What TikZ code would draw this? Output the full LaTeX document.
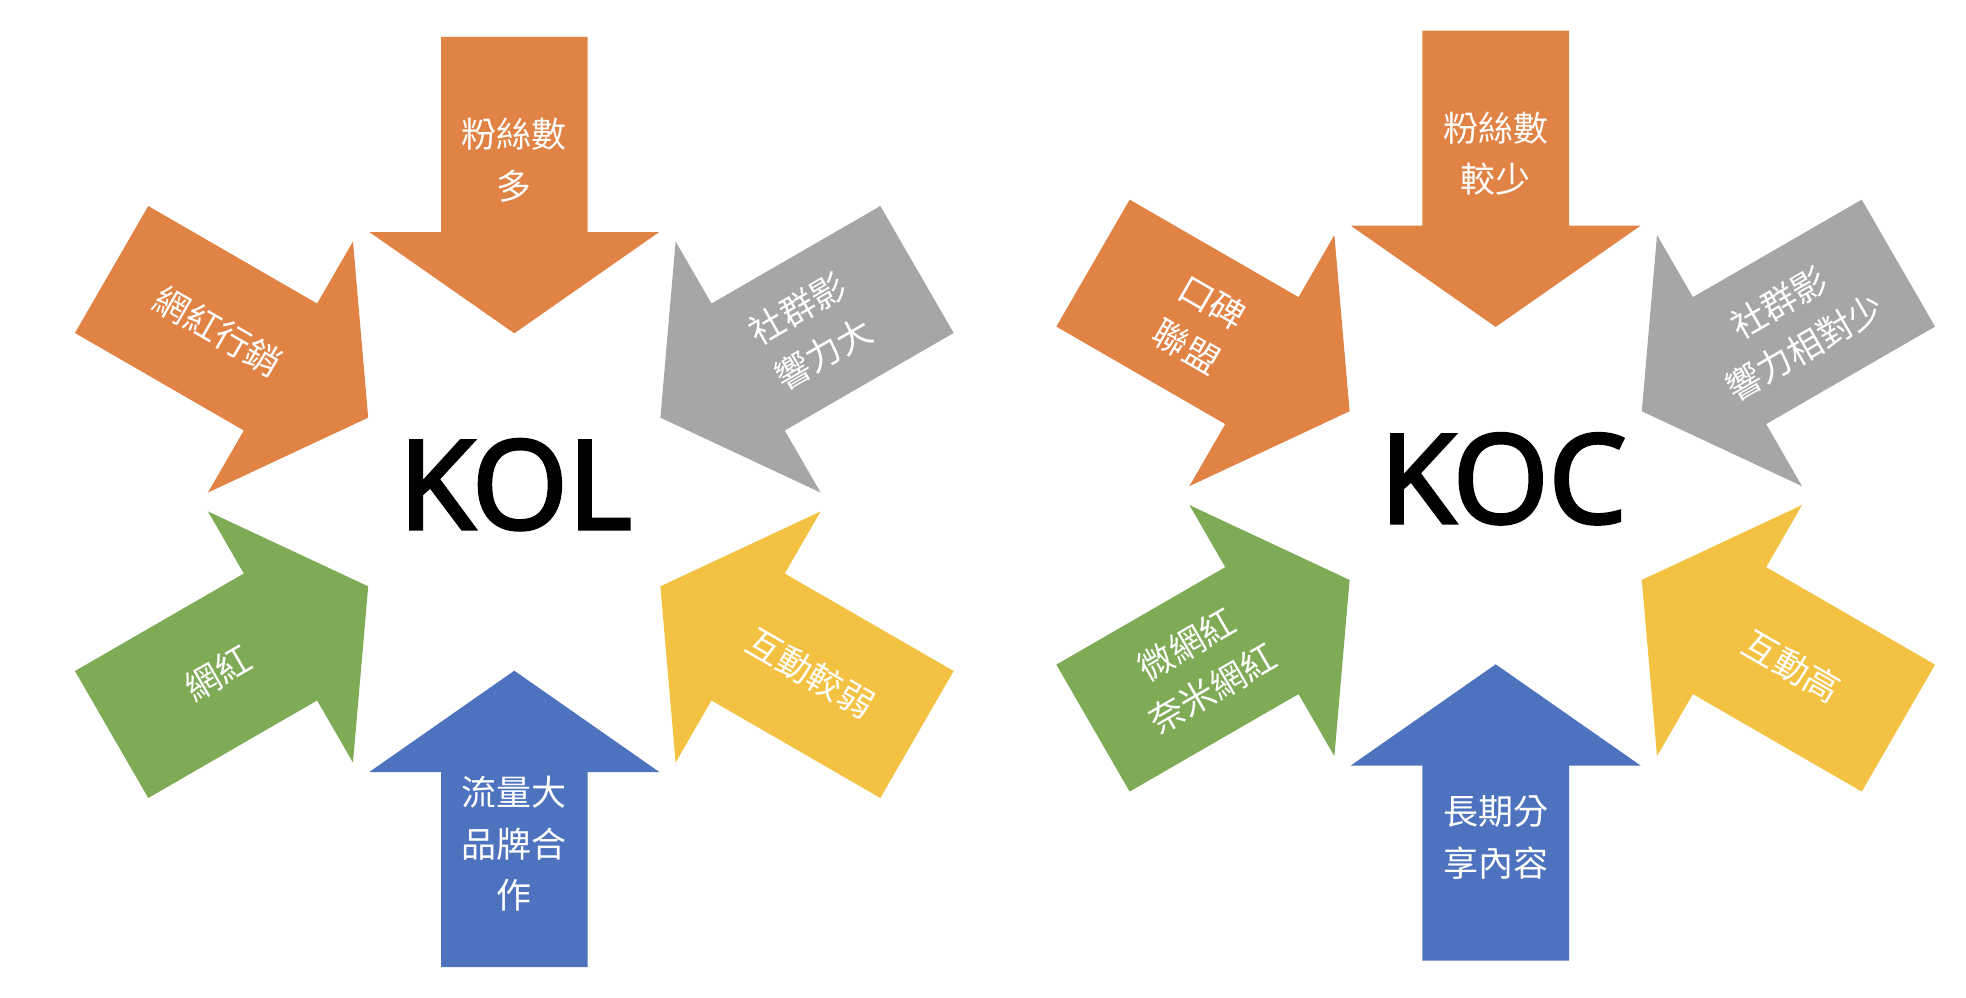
\documentclass[tikz,border=0pt]{standalone}
\usepackage{fontspec}
\newfontfamily\cjkf{Noto Sans CJK TC}
\newfontfamily\latf[FakeBold=3]{Open Sans}
\definecolor{aorange}{RGB}{224,131,69}
\definecolor{agray}{RGB}{166,166,166}
\definecolor{ayellow}{RGB}{244,194,67}
\definecolor{ablue}{RGB}{78,115,190}
\definecolor{agreen}{RGB}{127,171,86}
\tikzset{
  lbl/.style={text=white, font=\cjkf\fontsize{35}{51.5}\selectfont, align=center, inner sep=0pt},
  big/.style={font=\latf\fontsize{123}{130}\selectfont, inner sep=0pt, text=black}
}
\newcommand{\radarrow}[3]{%
  \begin{scope}[shift={(#1)}, rotate=#2]
    \fill[#3] (465,73.3) -- (270,73.3) -- (270,145) -- (168.7,0) -- (270,-145) -- (270,-73.3) -- (465,-73.3) -- cycle;
  \end{scope}}
\begin{document}
\begin{tikzpicture}[x=1pt,y=1pt]
\useasboundingbox (0,0) rectangle (1966,-998);
\fill[white] (0,0) rectangle (1966,-998);
\coordinate (L) at (514.3,-502);
\coordinate (R) at (1495.7,-495.6);
% KOL group
\radarrow{L}{90}{aorange}
\radarrow{L}{150}{aorange}
\radarrow{L}{30}{agray}
\radarrow{L}{210}{agreen}
\radarrow{L}{330}{ayellow}
\radarrow{L}{270}{ablue}
\node[big] (kol) at (515.3,-484.7) {KOL};
\node[lbl] (l1) at ([shift={(90:342)}]L) {粉絲數\\多};
\node[lbl, rotate=-30] (l2) at ([shift={(150:342)}]L) {網紅行銷};
\node[lbl, rotate=30] (l3) at ([shift={(30:342)}]L) {社群影\\響力大};
\node[lbl, rotate=30] (l4) at ([shift={(210:342)}]L) {網紅};
\node[lbl, rotate=-30] (l5) at ([shift={(330:342)}]L) {互動較弱};
\node[lbl] (l6) at ([shift={(270:342)}]L) {流量大\\品牌合\\作};
% KOC group
\radarrow{R}{90}{aorange}
\radarrow{R}{150}{aorange}
\radarrow{R}{30}{agray}
\radarrow{R}{210}{agreen}
\radarrow{R}{330}{ayellow}
\radarrow{R}{270}{ablue}
\node[big] (koc) at (1503,-478.8) {KOC};
\node[lbl] (r1) at ([shift={(90:342)}]R) {粉絲數\\較少};
\node[lbl, rotate=-30] (r2) at ([shift={(150:342)}]R) {口碑\\聯盟};
\node[lbl, rotate=30] (r3) at ([shift={(30:342)}]R) {社群影\\響力相對少};
\node[lbl, rotate=30] (r4) at ([shift={(210:342)}]R) {微網紅\\奈米網紅};
\node[lbl, rotate=-30] (r5) at ([shift={(330:342)}]R) {互動高};
\node[lbl] (r6) at ([shift={(270:342)}]R) {長期分\\享內容};
\end{tikzpicture}
\end{document}
